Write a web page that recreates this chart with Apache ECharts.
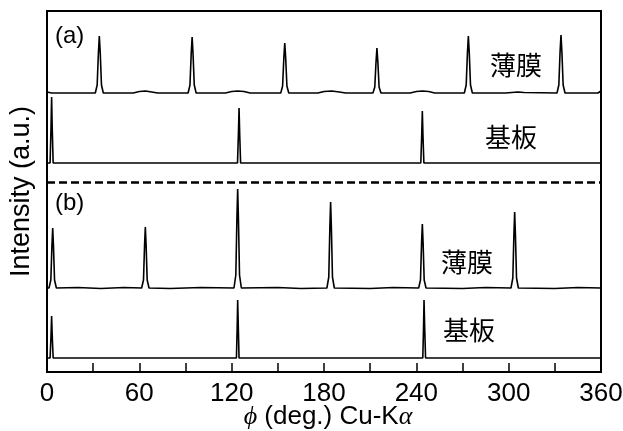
<!DOCTYPE html>
<html>
<head>
<meta charset="utf-8">
<script src="https://cdn.jsdelivr.net/npm/echarts@6/dist/echarts.min.js"></script>
<style>html,body{margin:0;padding:0;background:#fff;}#c{width:623px;height:431px;}</style>
</head>
<body>
<div id="c"></div>
<script>
// x ticks (deg)
var xTicks = [0, 60, 120, 180, 240, 300, 360];
// vertical offsets of each stacked trace (a.u.)
var offsetFilmA = 279, offsetSubA = 209, offsetFilmB = 84, offsetSubB = 14;
var separatorLevel = 190;
// (a) film: [phi, intensity above own baseline]
var filmA = [[0,1],[3,0],[20,0],[31.4,0],[32.6,8],[33.4,40],[34,57],[34.6,40],[35.4,8],[36.6,0],
  [56,0],[60,1.5],[64,2],[68,1],[72,0],
  [91.7,0],[92.9,8],[93.7,39],[94.3,56],[94.9,39],[95.7,8],[96.9,0],
  [116,0],[120,1.5],[124,2],[128,1.5],[132,0],
  [151.9,0],[153.1,7],[153.9,35],[154.5,50],[155.1,35],[155.9,7],[157.1,0],
  [176,0],[180,1.5],[185,2],[190,1],[194,0],
  [211.8,0],[213,6],[213.8,31],[214.4,45],[215,31],[215.8,6],[217,0],
  [236,0],[240,1.5],[244,2],[248,1.5],[252,0],
  [271.2,0],[272.4,8],[273.2,40],[273.8,57],[274.4,40],[275.2,8],[276.4,0],
  [298,0],[302,0.5],[306,1],[310,0.5],
  [331.4,0],[332.6,8],[333.4,41],[334,58],[334.6,41],[335.4,8],[336.6,0],
  [358,0],[360,2]];
// (a) substrate
var subA = [[0,0],[2,0],[2.6,35],[3.0,66],[3.4,35],[4.0,0],
  [123.8,0],[124.4,30],[124.8,55],[125.2,30],[125.8,0],
  [242.9,0],[243.5,28],[243.9,52],[244.3,28],[244.9,0],[360,0]];
// (b) film
var filmB = [[0,0],[1.3,0],[2.5,8],[3.2,42],[3.7,60],[4.2,42],[4.9,8],[6.1,0],
  [20,0.5],[35,-0.5],[50,0.5],
  [61.5,0],[62.7,8],[63.4,43],[63.9,61],[64.4,43],[65.1,8],[66.3,0],
  [80,-0.5],[100,0.5],
  [121.5,0],[122.7,13],[123.4,69],[123.9,99],[124.4,69],[125.1,13],[126.3,0],
  [150,0.5],[165,-0.5],
  [181.9,0],[183.1,11],[183.8,60],[184.3,86],[184.8,60],[185.5,11],[186.7,0],
  [210,-0.5],[225,0.5],
  [241.5,0],[242.7,8],[243.4,45],[243.9,64],[244.4,45],[245.1,8],[246.3,0],
  [270,-0.5],[285,0.5],
  [301.5,0],[302.7,10],[303.4,53],[303.9,76],[304.4,53],[305.1,10],[306.3,0],
  [330,-0.5],[345,0.5],[360,0]];
// (b) substrate
var subB = [[0,0],[2,0],[2.6,22],[3.0,42],[3.4,22],[4.0,0],
  [123.1,0],[123.6,32],[123.9,58],[124.3,32],[124.8,0],
  [244.2,0],[244.7,32],[245.0,58],[245.4,32],[246.0,0],[360,0]];

function shift(arr, off){ return arr.map(function(p){ return [p[0], p[1] + off]; }); }

var FONT = "'Liberation Sans', Arial, sans-serif";
var CJK = "'Noto Sans CJK JP', 'Noto Sans CJK SC', sans-serif";
var lineStyle = {color:'#000', width:1.6};
function mkSeries(data, off){
  return {type:'line', data: shift(data, off), symbol:'none', lineStyle: lineStyle, silent:true, animation:false};
}
var series = [mkSeries(filmA, offsetFilmA), mkSeries(subA, offsetSubA), mkSeries(filmB, offsetFilmB), mkSeries(subB, offsetSubB)];
series[0].markLine = {symbol:'none', silent:true, label:{show:false}, animation:false,
  lineStyle:{color:'#000', width:2.5, type:[8,4]}, data:[{yAxis: separatorLevel}]};

var chart = echarts.init(document.getElementById('c'), null, {renderer:'canvas'});
chart.setOption({
  backgroundColor:'#fff',
  animation:false,
  grid:{left:47, right:22, top:11, bottom:59, containLabel:false, outerBoundsMode:'none',
    show:true, borderColor:'#000', borderWidth:2, backgroundColor:'transparent'},
  xAxis:{type:'value', min:xTicks[0], max:xTicks[xTicks.length-1], interval:60,
    axisLine:{show:true, lineStyle:{color:'#000', width:2}},
    axisTick:{show:true, inside:true, length:9, lineStyle:{color:'#000', width:1.5}},
    minorTick:{show:true, splitNumber:2, length:9, lineStyle:{color:'#000', width:1.5}},
    splitLine:{show:false},
    axisLabel:{color:'#000', fontSize:26, fontFamily:FONT, margin:9},
    name:'{i|ϕ} (deg.) Cu-K{i|α}', nameLocation:'middle', nameGap:32, nameMoveOverlap:false,
    nameTextStyle:{color:'#000', fontSize:26, fontFamily:FONT, lineHeight:26, padding:[0,0,0,8],
      rich:{i:{fontStyle:'italic', fontSize:26, lineHeight:26, fontFamily:"'Liberation Serif', 'DejaVu Serif', serif", color:'#000'}}}
  },
  yAxis:{type:'value', min:0, max:361,
    axisLine:{show:true, lineStyle:{color:'#000', width:2}},
    axisTick:{show:false}, axisLabel:{show:false}, splitLine:{show:false},
    name:'Intensity (a.u.)', nameLocation:'middle', nameGap:12, nameMoveOverlap:false,
    nameTextStyle:{color:'#000', fontSize:27, fontFamily:FONT}
  },
  graphic:[
    {type:'text', left:55, top:24, style:{text:'(a)', font:'24px '+FONT, fill:'#000'}},
    {type:'text', left:55, top:191, style:{text:'(b)', font:'24px '+FONT, fill:'#000'}},
    {type:'text', left:490, top:52, style:{text:'薄膜', font:'26px '+CJK, fill:'#000'}},
    {type:'text', left:485, top:124, style:{text:'基板', font:'26px '+CJK, fill:'#000'}},
    {type:'text', left:441, top:249, style:{text:'薄膜', font:'26px '+CJK, fill:'#000'}},
    {type:'text', left:443, top:317, style:{text:'基板', font:'26px '+CJK, fill:'#000'}}
  ],
  series: series
});
</script>
</body>
</html>
